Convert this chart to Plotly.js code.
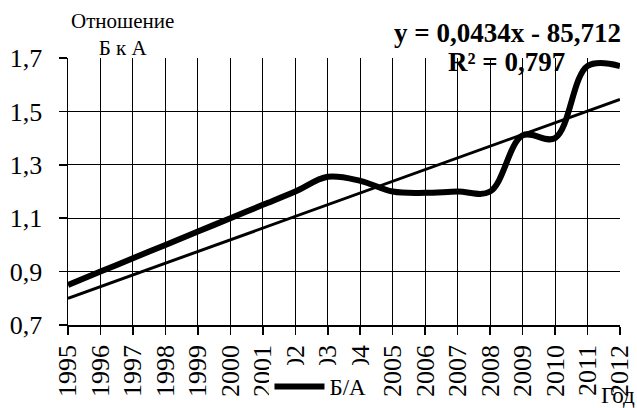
<!DOCTYPE html>
<html>
<head>
<meta charset="utf-8">
<script src="https://cdn.plot.ly/plotly-3.0.1.min.js"></script>
<style>html,body{margin:0;padding:0;background:#fff;}#chart{width:637px;height:408px;}</style>
</head>
<body>
<div id="chart"></div>
<script>
var years = [1995,1996,1997,1998,1999,2000,2001,2002,2003,2004,2005,2006,2007,2008,2009,2010,2011,2012];
var ratioBA = [0.85,0.90,0.95,1.00,1.05,1.10,1.15,1.20,1.255,1.24,1.20,1.195,1.20,1.20,1.41,1.40,1.67,1.67];
var trendYears = [1995, 2012];
var trendValues = [0.80, 1.545];
var yearLabels = years.map(String);
var yTicks = [0.7, 0.9, 1.1, 1.3, 1.5, 1.7];
var seriesName = 'Б/А';
var yTitle = 'Отношение<br>Б к А';
var xTitle = 'Год';
var eqText = 'y = 0,0434x - 85,712';
var r2Text = 'R² = 0,797';

var serif = 'Liberation Serif';

var traces = [
  {x: years, y: ratioBA, type: 'scatter', mode: 'lines', name: seriesName,
   line: {color: '#000', width: 6, shape: 'spline', smoothing: 1}},
  {x: trendYears, y: trendValues, type: 'scatter', mode: 'lines', showlegend: false,
   line: {color: '#000', width: 3}, hoverinfo: 'skip'}
];

var layout = {
  width: 637, height: 408,
  margin: {l: 68, r: 17, t: 58, b: 83},
  paper_bgcolor: '#fff', plot_bgcolor: '#fff',
  separators: ', ',
  font: {family: serif, color: '#000', size: 24},
  showlegend: true,
  xaxis: {
    range: [1995, 2012], tickvals: years, ticktext: yearLabels, tickangle: -90,
    showgrid: true, gridcolor: '#000', gridwidth: 1,
    showline: true, linecolor: '#000', linewidth: 1.5,
    ticks: 'outside', ticklen: 8, tickcolor: '#000', tickwidth: 1.5,
    automargin: false,
    tickfont: {family: serif, size: 26, color: '#000'},
    zeroline: false, fixedrange: true
  },
  yaxis: {
    range: [0.7, 1.7], tickvals: yTicks, tickformat: '.1f',
    showgrid: true, gridcolor: '#000', gridwidth: 1,
    showline: true, linecolor: '#000', linewidth: 1.5,
    ticks: 'outside', ticklen: 8, tickcolor: '#000', tickwidth: 1.5,
    ticklabelstandoff: 11, automargin: false,
    tickfont: {family: serif, size: 26, color: '#000'},
    zeroline: false, fixedrange: true
  },
  legend: {
    orientation: 'h', x: 0.365, xanchor: 'left', xref: 'paper',
    yref: 'container', y: 0, yanchor: 'bottom',
    bgcolor: '#fff', borderwidth: 0,
    font: {family: serif, size: 23, color: '#000'},
    itemwidth: 50
  },
  annotations: [
    {text: yTitle, xref: 'paper', yref: 'paper', x: 0.098, y: 1, xanchor: 'center', yanchor: 'bottom',
     showarrow: false, font: {family: serif, size: 21, color: '#000'}, yshift: -4},
    {text: xTitle, xref: 'paper', yref: 'paper', x: 1.031, y: -0.263, xanchor: 'right', yanchor: 'middle',
     showarrow: false, font: {family: serif, size: 23, color: '#000'}},
    {text: '<b>' + eqText + '</b>', xref: 'paper', yref: 'paper', x: 0.797, y: 1.094, xanchor: 'center', yanchor: 'middle',
     showarrow: false, font: {family: serif, size: 27, color: '#000'}},
    {text: '<b>' + r2Text + '</b>', xref: 'paper', yref: 'paper', x: 0.795, y: 0.985, xanchor: 'center', yanchor: 'middle',
     showarrow: false, font: {family: serif, size: 27, color: '#000'}}
  ]
};

Plotly.newPlot('chart', traces, layout, {displayModeBar: false, staticPlot: true});
</script>
</body>
</html>
